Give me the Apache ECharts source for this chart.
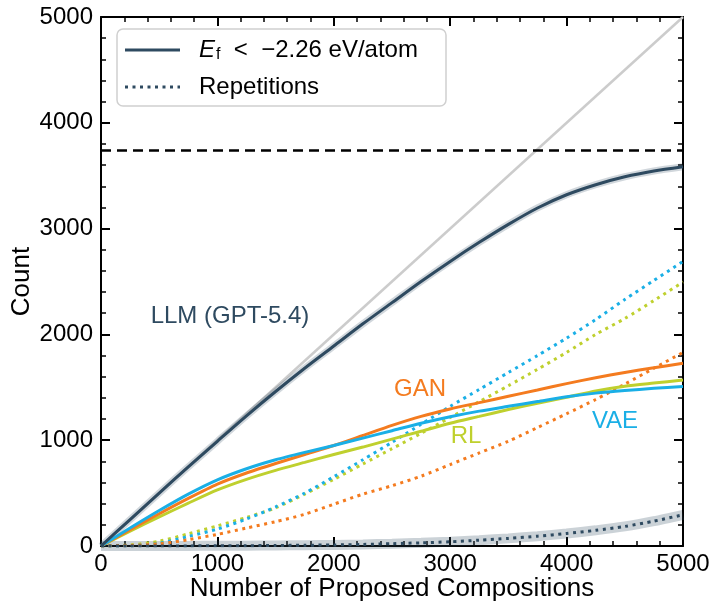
<!DOCTYPE html>
<html lang="en">
<head>
<meta charset="UTF-8">
<title>Count vs proposed compositions</title>
<script src="https://cdn.jsdelivr.net/npm/echarts@6/dist/echarts.min.js"></script>
<style>
  html, body { margin: 0; padding: 0; background: #fff; }
  #main { width: 711px; height: 603px; }
</style>
</head>
<body>
<div id="main"></div>
<script>
  // x positions (number of proposed compositions)
  var steps = [0, 250, 500, 750, 1000, 1250, 1500, 1750, 2000, 2250, 2500,
               2750, 3000, 3250, 3500, 3750, 4000, 4250, 4500, 4750, 5000];

  // E_f < -2.26 eV/atom counts
  var llm = [0, 250, 500, 748, 990, 1230, 1460, 1680, 1890, 2100, 2300,
             2500, 2690, 2870, 3040, 3195, 3320, 3415, 3490, 3545, 3585];
  var gan = [0, 155, 305, 450, 585, 690, 780, 865, 950, 1045, 1140,
             1225, 1295, 1355, 1415, 1475, 1535, 1590, 1640, 1685, 1727];
  var vae = [0, 170, 335, 490, 625, 730, 815, 885, 950, 1020, 1090,
             1160, 1222, 1275, 1320, 1365, 1410, 1445, 1470, 1490, 1508];
  var rl  = [0, 140, 275, 405, 530, 630, 715, 790, 865, 935, 1010,
             1085, 1160, 1225, 1290, 1350, 1405, 1465, 1510, 1540, 1568];

  // repetitions
  var llmRep = [0, 0, 0, 1, 2, 3, 5, 7, 10, 15, 22,
                30, 40, 55, 72, 93, 118, 148, 185, 235, 295];
  var ganRep = [0, 5, 20, 60, 110, 170, 230, 300, 395, 490, 570,
                660, 770, 880, 990, 1120, 1250, 1385, 1530, 1680, 1830];
  var vaeRep = [0, 3, 25, 90, 160, 255, 370, 500, 655, 815, 980,
                1150, 1320, 1480, 1640, 1800, 1965, 2140, 2330, 2510, 2690];
  var rlRep  = [0, 10, 45, 115, 190, 270, 360, 490, 630, 775, 920,
                1065, 1215, 1365, 1515, 1670, 1830, 2000, 2150, 2320, 2495];

  var diagonal = [0, 5000];
  var threshold = 3740;

  var navy = '#2e4a60';
  var orange = '#f47b1f';
  var cyan = '#1aafe6';
  var green = '#bfd02e';
  var font = '"Liberation Sans", Arial, sans-serif';

  function pairs(ys) {
    return steps.map(function (x, i) { return [x, ys[i]]; });
  }

  function line(name, ys, color, width, dotted, z) {
    return {
      name: name,
      type: 'line',
      data: pairs(ys),
      showSymbol: false,
      smooth: 0.25,
      z: z,
      lineStyle: { color: color, width: width, type: dotted ? [3, 4.5] : 'solid', cap: 'butt' },
      silent: true
    };
  }

  function axisX(pos, showLabel) {
    return {
      type: 'value', position: pos, min: 0, max: 5000, interval: 1000,
      axisLine: { show: true, onZero: false, lineStyle: { color: '#000', width: 2 } },
      axisTick: { show: true, inside: true, length: 9, lineStyle: { color: '#000', width: 2 } },
      minorTick: { show: true, splitNumber: 5, length: 5, lineStyle: { color: '#000', width: 1.5 } },
      axisLabel: { show: showLabel, color: '#000', fontSize: 24, fontFamily: font, margin: 6,
        formatter: function (v) { return String(v); } },
      splitLine: { show: false }
    };
  }

  var xBottom = axisX('bottom', true);
  xBottom.name = 'Number of Proposed Compositions';
  xBottom.nameLocation = 'middle';
  xBottom.nameGap = 30;
  xBottom.nameMoveOverlap = false;
  xBottom.nameTextStyle = { color: '#000', fontSize: 26, fontFamily: font };
  var yLeft = axisX('left', true);
  yLeft.axisLabel.margin = 8;
  yLeft.name = 'Count';
  yLeft.nameLocation = 'middle';
  yLeft.nameGap = 66;
  yLeft.nameMoveOverlap = false;
  yLeft.nameTextStyle = { color: '#000', fontSize: 26, fontFamily: font };

  var diag = {
    name: 'y = x', type: 'line', silent: true, z: 1,
    data: [[diagonal[0], diagonal[0]], [diagonal[1], diagonal[1]]],
    showSymbol: false,
    lineStyle: { color: '#cccccc', width: 2.5 },
    markLine: {
      silent: true, symbol: 'none', label: { show: false },
      lineStyle: { color: '#000', width: 2.5, type: [10, 6] },
      data: [{ yAxis: threshold }]
    }
  };

  var chart = echarts.init(document.getElementById('main'));
  chart.setOption({
    animation: false,
    grid: { left: 101, right: 28, top: 17, bottom: 57, containLabel: false, outerBoundsMode: 'none' },
    xAxis: [xBottom, axisX('top', false)],
    yAxis: [yLeft, axisX('right', false)],
    series: [
      diag,
      line('llm band', llm, 'rgba(46,74,96,0.22)', 7, false, 2),
      line('llm rep band', llmRep, 'rgba(46,74,96,0.25)', 10, false, 2),
      line('RL rep', rlRep, green, 3, true, 3),
      line('VAE rep', vaeRep, cyan, 3, true, 3),
      line('GAN rep', ganRep, orange, 3, true, 3),
      line('RL', rl, green, 3, false, 4),
      line('GAN', gan, orange, 3, false, 4),
      line('VAE', vae, cyan, 3, false, 4),
      line('LLM rep', llmRep, navy, 3, true, 5),
      line('LLM', llm, navy, 3, false, 5)
    ],
    graphic: [
      { type: 'rect', z: 100, shape: { x: 117, y: 29, width: 329, height: 77, r: 6 },
        style: { fill: 'rgba(255,255,255,0.9)', stroke: '#d0d0d0', lineWidth: 1.5 } },
      { type: 'line', z: 101, shape: { x1: 125, y1: 50, x2: 180, y2: 50 },
        style: { stroke: navy, lineWidth: 3 } },
      { type: 'line', z: 101, shape: { x1: 125, y1: 87, x2: 180, y2: 87 },
        style: { stroke: navy, lineWidth: 3, lineDash: [3, 4.5] } },
      { type: 'text', z: 101, x: 199, y: 50,
        style: { text: '{e|E}{s|f}  <  −2.26 eV/atom', fill: '#000', fontSize: 24, fontFamily: font,
          verticalAlign: 'middle',
          rich: {
            e: { fontStyle: 'italic', fontSize: 24, fontFamily: font, fill: '#000' },
            s: { fontSize: 16, fontFamily: font, padding: [10, 0, 0, 1], fill: '#000' }
          } } },
      { type: 'text', z: 101, x: 199, y: 87,
        style: { text: 'Repetitions', fill: '#000', fontSize: 24, fontFamily: font, verticalAlign: 'middle' } },
      { type: 'text', z: 101, x: 230, y: 316,
        style: { text: 'LLM (GPT-5.4)', fill: navy, fontSize: 24, fontFamily: font, align: 'center', verticalAlign: 'middle' } },
      { type: 'text', z: 101, x: 420, y: 389,
        style: { text: 'GAN', fill: orange, fontSize: 24, fontFamily: font, align: 'center', verticalAlign: 'middle' } },
      { type: 'text', z: 101, x: 466, y: 436,
        style: { text: 'RL', fill: green, fontSize: 24, fontFamily: font, align: 'center', verticalAlign: 'middle' } },
      { type: 'text', z: 101, x: 615, y: 421,
        style: { text: 'VAE', fill: cyan, fontSize: 24, fontFamily: font, align: 'center', verticalAlign: 'middle' } }
    ]
  });
</script>
</body>
</html>
